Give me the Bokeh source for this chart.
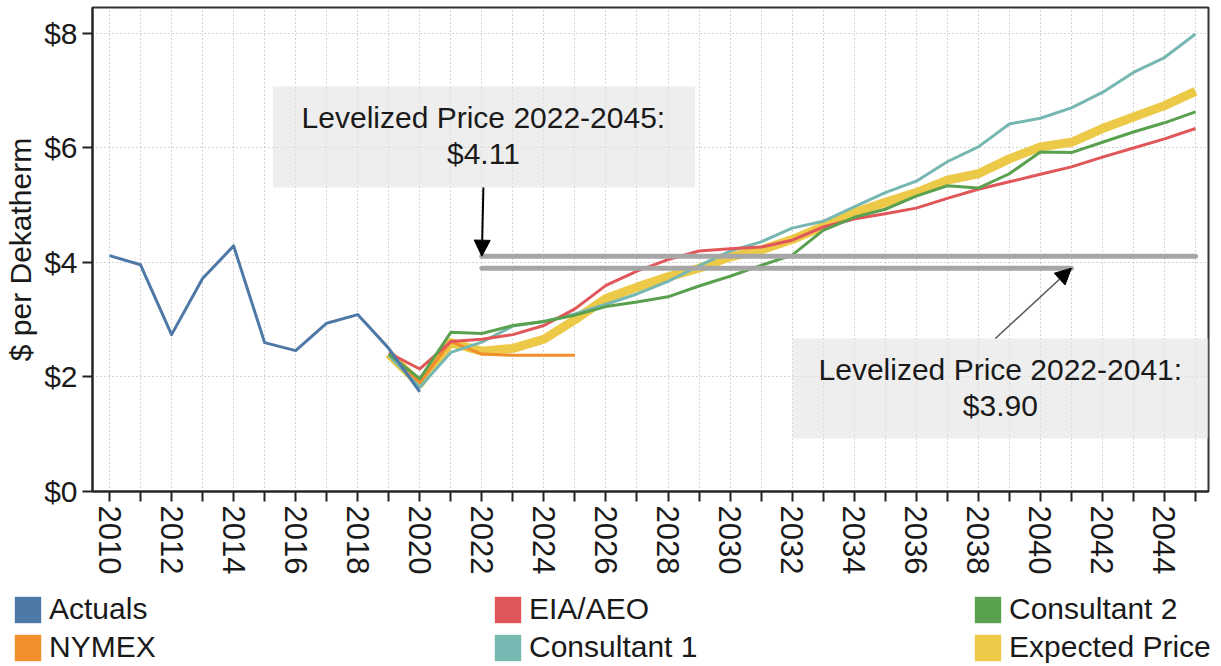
from bokeh.plotting import figure
from bokeh.models import (FixedTicker, Legend, LegendItem, BoxAnnotation, Label,
                          Arrow, NormalHead, Range1d, PrintfTickFormatter)
from bokeh.embed import file_html
from bokeh.resources import INLINE

FONT = "Liberation Sans"

# ---------------- data ----------------
actual_years = list(range(2010, 2021))
actuals = [4.12, 3.96, 2.74, 3.72, 4.29, 2.60, 2.46, 2.94, 3.09, 2.50, 1.74]

nymex_years = list(range(2019, 2026))
nymex = [2.38, 1.90, 2.62, 2.40, 2.38, 2.38, 2.38]

fc_years = list(range(2019, 2046))
eia_aeo = [2.42, 2.14, 2.62, 2.66, 2.74, 2.90, 3.19, 3.60, 3.85, 4.05, 4.20, 4.24, 4.27, 4.39,
           4.62, 4.76, 4.85, 4.95, 5.12, 5.28, 5.41, 5.54, 5.67, 5.84, 6.00, 6.16, 6.34]
consultant1 = [2.38, 1.82, 2.43, 2.61, 2.89, 2.97, 3.10, 3.27, 3.45, 3.67, 3.94, 4.20, 4.36, 4.60,
               4.72, 4.97, 5.22, 5.42, 5.76, 6.02, 6.42, 6.52, 6.70, 6.97, 7.32, 7.58, 7.99]
consultant2 = [2.40, 1.97, 2.78, 2.76, 2.90, 2.97, 3.08, 3.23, 3.31, 3.40, 3.59, 3.76, 3.95, 4.13,
               4.56, 4.79, 4.93, 5.16, 5.34, 5.30, 5.55, 5.93, 5.92, 6.10, 6.28, 6.44, 6.63]
expected = [2.40, 1.88, 2.60, 2.45, 2.50, 2.66, 3.00, 3.37, 3.57, 3.75, 3.90, 4.10, 4.22, 4.40,
            4.63, 4.87, 5.05, 5.22, 5.44, 5.55, 5.81, 6.02, 6.10, 6.34, 6.54, 6.74, 6.99]

lev_periods = ["2022-2045", "2022-2041"]
lev_start = [2022, 2022]
lev_end = [2045, 2041]
lev_values = [4.11, 3.90]

series_names = ["Actuals", "NYMEX", "EIA/AEO", "Consultant 1", "Consultant 2", "Expected Price"]
series_colors = ["#4e79a7", "#f28e2b", "#e15759", "#76b7b2", "#59a14f", "#edc948"]

y_ticks = [0, 2, 4, 6, 8]
x_label_years = list(range(2010, 2045, 2))
x_minor_years = list(range(2011, 2046, 2))

# ---------------- main figure ----------------
p = figure(width=1221, height=580, output_backend="svg", toolbar_location=None,
           x_range=Range1d(2009.452, 2045.419), y_range=Range1d(0, 8.454),
           min_border_left=92, min_border_right=13, min_border_top=7, min_border_bottom=89)
p.background_fill_color = "white"
p.border_fill_color = "white"
p.outline_line_color = "#333333"
p.outline_line_width = 2

grid_color = "#a8a8a8"
p.xgrid.grid_line_color = grid_color
p.xgrid.grid_line_dash = "1 3"
p.xgrid.minor_grid_line_color = grid_color
p.xgrid.minor_grid_line_dash = "1 3"
p.ygrid.grid_line_color = grid_color
p.ygrid.grid_line_dash = "1 3"

p.xaxis.ticker = FixedTicker(ticks=x_label_years, minor_ticks=x_minor_years)
p.yaxis.ticker = FixedTicker(ticks=y_ticks)
p.yaxis.formatter = PrintfTickFormatter(format="$%d")

for ax in (p.xaxis[0], p.yaxis[0]):
    ax.axis_line_color = "#222222"
    ax.axis_line_width = 2
    ax.major_tick_line_color = "#222222"
    ax.major_tick_line_width = 2
    ax.minor_tick_line_color = "#222222"
    ax.minor_tick_line_width = 2
    ax.major_tick_in = 0
    ax.major_tick_out = 10
    ax.minor_tick_in = 0
    ax.minor_tick_out = 10
    ax.major_label_text_font = FONT
    ax.major_label_text_color = "#1a1a1a"
    ax.axis_label_text_font = FONT
    ax.axis_label_text_font_style = "normal"
    ax.axis_label_text_color = "#1a1a1a"

p.xaxis.major_label_text_font_size = "31px"
p.xaxis.major_label_orientation = "vertical"
p.xaxis.major_label_standoff = 4
p.yaxis.minor_tick_out = 0
p.yaxis.major_label_text_font_size = "30px"
p.yaxis.major_label_standoff = 5
p.yaxis.axis_label = "$ per Dekatherm"
p.yaxis.axis_label_text_font_size = "30px"
p.yaxis.axis_label_standoff = 4

# ---------------- annotation boxes ----------------
box_fill = "#e2e2e2"
p.add_layout(BoxAnnotation(left=2015.27, right=2028.87, bottom=5.31, top=7.074,
                           fill_color=box_fill, fill_alpha=0.6, line_color=None))
p.add_layout(BoxAnnotation(left=2032.01, right=2045.42, bottom=0.926, top=2.672,
                           fill_color=box_fill, fill_alpha=0.6, line_color=None))

# ---------------- series ----------------
w = 3
p.line(fc_years, expected, line_color=series_colors[5], line_width=9, line_join="round")
p.line(nymex_years, nymex, line_color=series_colors[1], line_width=w, line_join="round")
p.line(fc_years, consultant1, line_color=series_colors[3], line_width=w, line_join="round")
p.line(fc_years, eia_aeo, line_color=series_colors[2], line_width=w, line_join="round")
p.line(fc_years, consultant2, line_color=series_colors[4], line_width=w, line_join="round")
p.line(actual_years, actuals, line_color=series_colors[0], line_width=w, line_join="round")

# levelized price lines
p.segment(x0=lev_start, x1=lev_end, y0=lev_values, y1=lev_values,
          line_color="#a6a6a6", line_width=5, line_cap="round")

# labels
txt_kw = dict(text_font=FONT, text_font_size="30px", text_color="#1a1a1a",
              text_align="center", text_baseline="middle")
p.add_layout(Label(x=2022.05, y=6.533, text=f"Levelized Price {lev_periods[0]}:", **txt_kw))
p.add_layout(Label(x=2022.05, y=5.90, text=f"${lev_values[0]:.2f}", **txt_kw))
p.add_layout(Label(x=2038.71, y=2.131, text=f"Levelized Price {lev_periods[1]}:", **txt_kw))
p.add_layout(Label(x=2038.71, y=1.502, text=f"${lev_values[1]:.2f}", **txt_kw))

# arrows
p.add_layout(Arrow(end=NormalHead(size=16, fill_color="black", line_color="black", line_width=1),
                   x_start=2022.05, y_start=5.31, x_end=lev_start[0], y_end=lev_values[0],
                   line_color="black", line_width=2))
p.add_layout(Arrow(end=NormalHead(size=16, fill_color="black", line_color="black", line_width=1),
                   x_start=2038.55, y_start=2.672, x_end=lev_end[1], y_end=lev_values[1],
                   line_color="#555555", line_width=1.5))

# ---------------- legend figure (square swatches) ----------------
lg = figure(width=1221, height=86, output_backend="svg", toolbar_location=None,
            x_axis_type=None, y_axis_type=None, x_range=Range1d(0, 1), y_range=Range1d(0, 1),
            min_border_left=0, min_border_right=0, min_border_top=0, min_border_bottom=0)
lg.outline_line_color = None
lg.grid.visible = False
lg.background_fill_color = "white"
lg.border_fill_color = "white"

# zero-area quads built from each series (outside the visible range) give legend swatches
swatch_src = [
    (actual_years, actuals), (nymex_years, nymex), (fc_years, eia_aeo),
    (fc_years, consultant1), (fc_years, consultant2), (fc_years, expected),
]
swatches = []
for (xs, ys), c in zip(swatch_src, series_colors):
    swatches.append(lg.quad(left=xs, right=xs, bottom=ys, top=ys,
                            fill_color=c, line_color=c, line_alpha=0))

items = [LegendItem(label=n, renderers=[r]) for n, r in zip(series_names, swatches)]
legend = Legend(items=items, orientation="vertical", ncols=3, location=(11, 2),
                glyph_width=33, glyph_height=33, label_standoff=5, label_width=438,
                label_height=34, spacing=4, padding=0, margin=0,
                border_line_color=None, background_fill_alpha=0,
                label_text_font=FONT, label_text_font_size="30px", label_text_color="#1a1a1a")
lg.add_layout(legend)

open("out.html", "w").write(file_html([p, lg], INLINE))
